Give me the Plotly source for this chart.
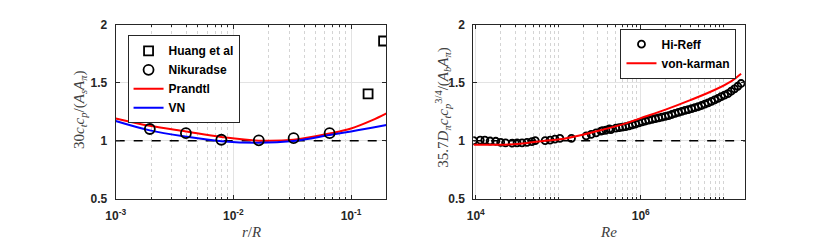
import plotly.graph_objects as go

# ---------------- Left panel data ----------------
huang_x = [0.1395, 0.189]
huang_y = [1.405, 1.861]

nik_x = [0.00195, 0.00395, 0.0079, 0.01644, 0.0325, 0.0657]
nik_y = [1.101, 1.065, 1.008, 1.003, 1.022, 1.065]

prandtl_x = [0.001, 0.00195, 0.00395, 0.0079, 0.01644, 0.0325, 0.0657, 0.1, 0.15, 0.2]
prandtl_y = [1.192, 1.128, 1.079, 1.032, 1.000, 1.008, 1.062, 1.105, 1.175, 1.236]

vn_x = [0.001, 0.00195, 0.00395, 0.0079, 0.01644, 0.0325, 0.0657, 0.1, 0.15, 0.2]
vn_y = [1.170, 1.089, 1.035, 0.995, 0.981, 0.997, 1.049, 1.080, 1.112, 1.135]

# ---------------- Right panel data ----------------
hireff_logre = [3.974, 4.054, 4.110, 4.174, 4.242, 4.302, 4.361, 4.441, 4.501, 4.561,
                4.621, 4.681, 4.721, 4.841, 4.901, 4.960, 5.020, 5.160, 5.339, 5.399,
                5.459, 5.519, 5.539, 5.578, 5.619, 5.638, 5.699, 5.740, 5.778, 5.818,
                5.858, 5.898, 5.938, 5.978, 6.018, 6.058, 6.098, 6.138, 6.178, 6.218,
                6.257, 6.297, 6.337, 6.377, 6.417, 6.457, 6.497, 6.537, 6.577, 6.617,
                6.657, 6.697, 6.737, 6.777, 6.817, 6.857, 6.896, 6.936, 6.976, 7.016,
                7.056, 7.096, 7.136, 7.176, 7.216]
hireff_y = [1.000, 1.005, 1.005, 0.997, 0.995, 0.986, 0.981, 0.978, 0.981, 0.981,
            0.986, 0.992, 1.000, 1.000, 1.005, 1.014, 1.019, 1.019, 1.041, 1.054,
            1.068, 1.082, 1.087, 1.090, 1.101, 1.095, 1.109, 1.113, 1.117, 1.122,
            1.128, 1.136, 1.144, 1.153, 1.163, 1.170, 1.177, 1.184, 1.190, 1.197,
            1.204, 1.210, 1.217, 1.226, 1.236, 1.245, 1.253, 1.261, 1.269, 1.277,
            1.285, 1.294, 1.304, 1.315, 1.326, 1.340, 1.353, 1.366, 1.380, 1.393,
            1.407, 1.427, 1.448, 1.470, 1.494]
hireff_x = [10 ** v for v in hireff_logre]

vk_logre = [3.974, 4.2, 4.4, 4.6, 4.84, 5.02, 5.31, 5.54, 5.8, 6.0, 6.3, 6.6, 6.9, 7.1, 7.216]
vk_y = [0.965, 0.965, 0.967, 0.978, 1.000, 1.012, 1.054, 1.095, 1.145, 1.195, 1.268, 1.350, 1.440, 1.515, 1.578]
vk_x = [10 ** v for v in vk_logre]

# ---------------- Ticks ----------------
left_xticks = [1e-3, 1e-2, 1e-1]
left_xticklabels = ["10<sup>-3</sup>", "10<sup>-2</sup>", "10<sup>-1</sup>"]
right_xticks = [1e4, 1e6]
right_xticklabels = ["10<sup>4</sup>", "10<sup>6</sup>"]
yticks = [0.5, 1, 1.5, 2]
yticklabels = ["0.5", "1", "1.5", "2"]

left_minor = [m * 10 ** e for e in (-3, -2, -1) for m in range(2, 10) if m * 10 ** e <= 0.2001]
right_minor = [m * 10 ** e for e in (3, 4, 5, 6, 7) for m in range(1, 10)
               if m * 10 ** e not in (1e4, 1e6) and 9.3e3 <= m * 10 ** e <= 1.85e7]

W, H = 822, 248
def px_x(p): return p / W
def px_y(p): return (H - p) / H

TICKFONT = dict(family="Liberation Sans, Arial, sans-serif", size=12, color="#262626", weight="bold")
AXCOL = "#262626"
GRIDCOL = "#e3e3e3"
MINORCOL = "#d4d4d4"

fig = go.Figure()

# left panel
fig.add_trace(go.Scatter(x=[1e-3, 0.2], y=[1, 1], mode="lines", showlegend=False,
                         line=dict(color="black", width=1.5, dash="dash"),
                         xaxis="x", yaxis="y", hoverinfo="skip"))
fig.add_trace(go.Scatter(x=prandtl_x, y=prandtl_y, mode="lines", name="Prandtl",
                         line=dict(color="#ff0000", width=2, shape="spline"),
                         xaxis="x", yaxis="y", legend="legend", legendrank=3))
fig.add_trace(go.Scatter(x=vn_x, y=vn_y, mode="lines", name="VN",
                         line=dict(color="#0000ff", width=2, shape="spline"),
                         xaxis="x", yaxis="y", legend="legend", legendrank=4))
fig.add_trace(go.Scatter(x=huang_x, y=huang_y, mode="markers", name="Huang et al",
                         marker=dict(symbol="square-open", size=9, color="black", line=dict(width=1.8)),
                         xaxis="x", yaxis="y", legend="legend", legendrank=1))
fig.add_trace(go.Scatter(x=nik_x, y=nik_y, mode="markers", name="Nikuradse",
                         marker=dict(symbol="circle-open", size=10, color="black", line=dict(width=1.8)),
                         xaxis="x", yaxis="y", legend="legend", legendrank=2))

# right panel
fig.add_trace(go.Scatter(x=[9.3e3, 1.85e7], y=[1, 1], mode="lines", showlegend=False,
                         line=dict(color="black", width=1.5, dash="dash"),
                         xaxis="x2", yaxis="y2", hoverinfo="skip"))
fig.add_trace(go.Scatter(x=hireff_x, y=hireff_y, mode="markers", name="Hi-Reff",
                         marker=dict(symbol="circle-open", size=7, color="black", line=dict(width=1.8)),
                         xaxis="x2", yaxis="y2", legend="legend2", legendrank=1))
fig.add_trace(go.Scatter(x=vk_x, y=vk_y, mode="lines", name="von-karman",
                         line=dict(color="#ff0000", width=2, shape="spline"),
                         xaxis="x2", yaxis="y2", legend="legend2", legendrank=2))

def xaxis_common(ticks, labels, minor, rng, dom):
    return dict(type="log", range=rng, domain=dom, tickvals=ticks, ticktext=labels,
                showline=True, linecolor=AXCOL, linewidth=1, mirror="ticks",
                ticks="inside", ticklen=4, tickcolor=AXCOL, tickfont=TICKFONT,
                ticklabelstandoff=6,
                showgrid=True, gridcolor=GRIDCOL, gridwidth=1, zeroline=False,
                minor=dict(tickvals=minor, showgrid=True, gridcolor=MINORCOL, griddash="dot",
                           ticks="inside", ticklen=2, tickcolor=AXCOL))

def yaxis_common(anchor, dom):
    return dict(range=[0.5, 2], domain=dom, anchor=anchor, tickvals=yticks, ticktext=yticklabels,
                showline=True, linecolor=AXCOL, linewidth=1, mirror="ticks",
                ticks="inside", ticklen=4, tickcolor=AXCOL, tickfont=TICKFONT,
                ticklabelstandoff=5,
                showgrid=True, gridcolor=GRIDCOL, gridwidth=1, zeroline=False)

ydom = [px_y(203), px_y(19)]

LEGFONT = dict(family="Liberation Sans, Arial, sans-serif", size=12, color="black", weight="bold")

fig.update_layout(
    width=W, height=H, margin=dict(l=0, r=0, t=0, b=0),
    paper_bgcolor="white", plot_bgcolor="white",
    xaxis=dict(**xaxis_common(left_xticks, left_xticklabels, left_minor,
                              [-3, -0.7], [px_x(107), px_x(381)]), anchor="y"),
    yaxis=yaxis_common("x", ydom),
    xaxis2=dict(**xaxis_common(right_xticks, right_xticklabels, right_minor,
                               [3.970, 7.263], [px_x(469), px_x(744)]), anchor="y2"),
    yaxis2=yaxis_common("x2", ydom),
    legend=dict(x=px_x(119), y=px_y(30), xanchor="left", yanchor="top",
                bgcolor="white", bordercolor=AXCOL, borderwidth=1,
                font=LEGFONT, tracegroupgap=0, itemwidth=30),
    legend2=dict(x=px_x(618), y=px_y(23), xanchor="left", yanchor="top",
                 bgcolor="white", bordercolor=AXCOL, borderwidth=1,
                 font=LEGFONT, tracegroupgap=0, itemwidth=30),
    showlegend=True,
)

TITLEFONT = dict(family="Liberation Serif, DejaVu Serif, serif", size=15, color="#404040")
fig.add_annotation(text="<i>r</i>/<i>R</i>", x=px_x(244), y=px_y(238), xref="paper", yref="paper",
                   xanchor="center", yanchor="middle", showarrow=False, font=TITLEFONT)
fig.add_annotation(text="<i>Re</i>", x=px_x(606), y=px_y(238), xref="paper", yref="paper",
                   xanchor="center", yanchor="middle", showarrow=False, font=TITLEFONT)
fig.add_annotation(text="30<i>c<sub>t</sub>c<sub>p</sub></i>/(<i>A<sub>s</sub>A<sub>π</sub></i>)",
                   x=px_x(71), y=px_y(109), xref="paper", yref="paper", textangle=-90,
                   xanchor="center", yanchor="middle", showarrow=False, font=TITLEFONT)
fig.add_annotation(text="35.7<i>D<sub>π</sub>c<sub>t</sub>c<sub>p</sub></i><sup>3/4</sup>/(<i>A<sub>b</sub>A<sub>π</sub></i>)",
                   x=px_x(438), y=px_y(107), xref="paper", yref="paper", textangle=-90,
                   xanchor="center", yanchor="middle", showarrow=False, font=TITLEFONT)

fig.write_html("out.html", config={"displayModeBar": False},
               post_script="document.body.style.margin='0px';document.body.style.overflow='hidden';")
